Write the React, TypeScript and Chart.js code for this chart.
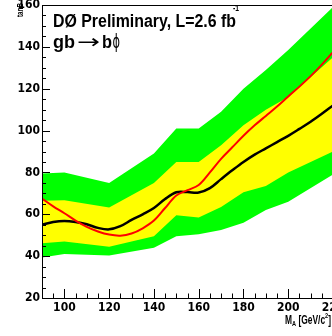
import React, { useEffect, useRef } from 'react';
import { Chart, registerables } from 'chart.js';

Chart.register(...registerables);

// Band vertices (M_A in GeV/c^2)
const bandMass = [90, 100, 120, 140, 150, 160, 170, 180, 190, 200, 220];
const greenUpper = [79.5, 80, 75, 89, 101, 101, 109, 120, 129, 138.5, 159];
const yellowUpper = [66.5, 66.7, 63.3, 75, 85, 85, 93, 102.5, 110, 116, 135];
const yellowLower = [46.2, 47, 44.5, 49.5, 59.5, 58.5, 63.5, 70.5, 73.5, 80, 90];
const greenLower = [39.4, 41, 40.3, 44, 49.5, 50.5, 52.5, 56, 62, 66, 79];

// Limit curves
const curveMass = [90, 95, 100, 105, 110, 115, 120, 125, 130, 135, 140, 145, 150, 155, 160, 165, 170, 175, 180, 185, 190, 195, 200, 205, 210, 215, 220];
const expectedLimit = [55, 56.3, 56.8, 56.3, 55.2, 53.5, 52.8, 54.3, 57.3, 60, 63, 67.3, 70.5, 70.6, 70.4, 72.5, 76.8, 81, 85, 88.5, 91.5, 94.5, 97.5, 100.8, 104.2, 108, 112];
const observedLimit = [67.5, 63.8, 60.5, 57, 54, 51.8, 50.3, 49.8, 50.8, 53.3, 57, 63, 69, 71.5, 74, 80, 86.5, 92, 97.5, 102.5, 107, 111.5, 116.3, 121, 126, 131.5, 137.5];

const xTickValues = [100, 120, 140, 160, 180, 200, 220];
const yTickValues = [20, 40, 60, 80, 100, 120, 140, 160];

const FAMILY = '"Liberation Sans", Arial, sans-serif';

const pts = (xs: number[], ys: number[]) => xs.map((x, i) => ({ x, y: ys[i] }));

type Run = { text: string; size: number; dy: number; font?: string };

// draw a sequence of text runs, squeezed horizontally to a target width
function drawRuns(ctx: CanvasRenderingContext2D, runs: Run[], x: number, base: number, targetWidth: number) {
  let total = 0;
  const fontOf = (r: Run) => r.font || `bold ${r.size}px ${FAMILY}`;
  const widths = runs.map((r) => {
    ctx.font = fontOf(r);
    const w = ctx.measureText(r.text).width;
    total += w;
    return w;
  });
  const sx = targetWidth / total;
  ctx.save();
  ctx.translate(x, base);
  ctx.scale(sx, 1);
  let cx = 0;
  runs.forEach((r, i) => {
    ctx.font = fontOf(r);
    ctx.fillText(r.text, cx, r.dy);
    cx += widths[i];
  });
  ctx.restore();
}

const decorPlugin = {
  id: 'decor',
  afterDatasetsDraw(chart: any) {
    const { ctx, chartArea: a, scales } = chart;
    const x = scales.x;
    const y = scales.y;
    ctx.save();
    ctx.strokeStyle = '#000';
    ctx.lineWidth = 1;
    // frame
    ctx.strokeRect(Math.round(a.left) + 0.5, Math.round(a.top) + 0.5, Math.round(a.right - a.left), Math.round(a.bottom - a.top));
    // x ticks (inside)
    ctx.beginPath();
    for (let v = 95; v <= 220; v += 5) {
      const px = Math.round(x.getPixelForValue(v)) + 0.5;
      const len = v % 20 === 0 ? 9 : 4.5;
      ctx.moveTo(px, a.bottom);
      ctx.lineTo(px, a.bottom - len);
    }
    // y ticks (inside)
    for (let v = 25; v <= 160; v += 5) {
      const py = Math.round(y.getPixelForValue(v)) + 0.5;
      const len = v % 20 === 0 ? 8 : 4;
      ctx.moveTo(a.left, py);
      ctx.lineTo(a.left + len, py);
    }
    ctx.stroke();

    ctx.fillStyle = '#000';
    ctx.textAlign = 'left';
    ctx.textBaseline = 'alphabetic';

    // header
    drawRuns(ctx, [{ text: 'DØ Preliminary, L=2.6 fb', size: 18, dy: 0 }], 53, 26.5, 183);
    drawRuns(ctx, [{ text: '-1', size: 9, dy: 0 }], 233, 10.5, 6);
    drawRuns(ctx, [{ text: 'gb', size: 19, dy: 0 }], 53, 47.5, 22);
    drawRuns(ctx, [{ text: '→', size: 19, dy: 0, font: '19px "DejaVu Sans", sans-serif' }], 77, 47.5, 23);
    drawRuns(ctx, [{ text: 'b', size: 19, dy: 0 }], 102, 47.5, 10);
    drawRuns(ctx, [{ text: 'ϕ', size: 19, dy: 0, font: '19px "DejaVu Sans", sans-serif' }], 112.5, 47.5, 7.5);

    // x title
    drawRuns(
      ctx,
      [
        { text: 'M', size: 12, dy: 0 },
        { text: 'A', size: 8, dy: 2 },
        { text: ' [GeV/c', size: 12, dy: 0 },
        { text: '2', size: 8, dy: -5.5 },
        { text: ']', size: 12, dy: 0 },
      ],
      285,
      323.5,
      46
    );

    // y title
    ctx.save();
    ctx.translate(23, 17);
    ctx.rotate(-Math.PI / 2);
    drawRuns(ctx, [{ text: 'tanB', size: 9, dy: 0 }], 0, 0, 14);
    ctx.restore();

    ctx.restore();
  },
};

export default function App() {
  const ref = useRef<HTMLCanvasElement | null>(null);
  useEffect(() => {
    if (!ref.current) return;
    const tickFont = { family: '"DejaVu Sans", "Liberation Sans", sans-serif', size: 12, weight: 'bold condensed' };
    const chart = new Chart(ref.current, {
      type: 'line',
      data: {
        datasets: [
          { label: 'observed', data: pts(curveMass, observedLimit), borderColor: '#ff0000', borderWidth: 2, pointRadius: 0, tension: 0.35, fill: false, order: 0 },
          { label: 'expected', data: pts(curveMass, expectedLimit), borderColor: '#000000', borderWidth: 2.5, pointRadius: 0, tension: 0.35, fill: false, order: 1 },
          { label: '1 sigma up', data: pts(bandMass, yellowUpper), borderWidth: 0, borderColor: 'rgba(0,0,0,0)', backgroundColor: '#ffff00', pointRadius: 0, fill: '+1', order: 2 },
          { label: '1 sigma down', data: pts(bandMass, yellowLower), borderWidth: 0, borderColor: 'rgba(0,0,0,0)', pointRadius: 0, fill: false, order: 3 },
          { label: '2 sigma up', data: pts(bandMass, greenUpper), borderWidth: 0, borderColor: 'rgba(0,0,0,0)', backgroundColor: '#00ff00', pointRadius: 0, fill: '+1', order: 4 },
          { label: '2 sigma down', data: pts(bandMass, greenLower), borderWidth: 0, borderColor: 'rgba(0,0,0,0)', pointRadius: 0, fill: false, order: 5 },
        ],
      },
      options: {
        responsive: false,
        animation: false,
        devicePixelRatio: 1,
        layout: { padding: { left: 0, top: 5, right: 12, bottom: 0 } },
        plugins: { legend: { display: false }, tooltip: { enabled: false } },
        scales: {
          x: {
            type: 'linear',
            min: 90,
            max: 220,
            grid: { display: false, drawTicks: false },
            border: { display: false },
            afterBuildTicks: (s: any) => { s.ticks = xTickValues.map((v) => ({ value: v })); },
            afterFit: (s: any) => { s.height = 38; s.paddingLeft = 0; s.paddingRight = 0; },
            ticks: { autoSkip: false, maxRotation: 0, padding: 3, color: '#000', font: tickFont },
          },
          y: {
            type: 'linear',
            min: 20,
            max: 160,
            grid: { display: false, drawTicks: false },
            border: { display: false },
            afterBuildTicks: (s: any) => { s.ticks = yTickValues.map((v) => ({ value: v })); },
            afterFit: (s: any) => { s.width = 42; s.paddingTop = 0; s.paddingBottom = 0; },
            ticks: { autoSkip: false, padding: 2, color: '#000', font: tickFont },
          },
        },
      },
      plugins: [decorPlugin],
    } as any);
    return () => chart.destroy();
  }, []);
  return (
    <div style={{ position: 'absolute', left: 0, top: 0, width: 345, height: 336, background: '#fff' }}>
      <canvas ref={ref} width={345} height={336} />
    </div>
  );
}
